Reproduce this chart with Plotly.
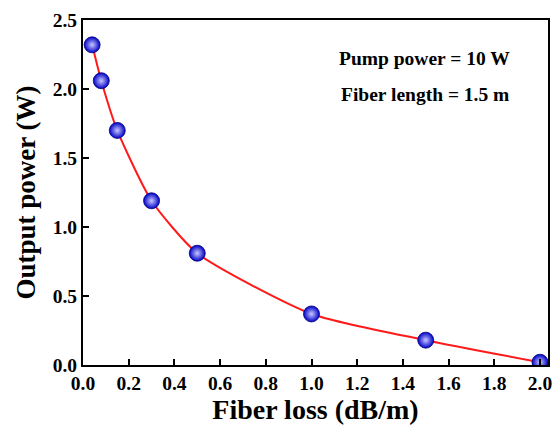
import plotly.graph_objects as go

fiber_loss = [0.04, 0.08, 0.15, 0.3, 0.5, 1.0, 1.5, 2.0]
output_power = [2.32, 2.06, 1.70, 1.19, 0.81, 0.37, 0.18, 0.02]
x_ticks = [0.0, 0.2, 0.4, 0.6, 0.8, 1.0, 1.2, 1.4, 1.6, 1.8, 2.0]
y_ticks = [0.0, 0.5, 1.0, 1.5, 2.0, 2.5]

font_family = "Liberation Serif, Times New Roman, serif"

fig = go.Figure()
fig.add_trace(go.Scatter(
    x=fiber_loss, y=output_power, mode="lines",
    line=dict(color="#ff1a1a", width=2, shape="spline", smoothing=0.6),
    showlegend=False, hoverinfo="skip",
))
fig.add_trace(go.Scatter(
    x=fiber_loss, y=output_power, mode="markers",
    marker=dict(size=16, color="#0000c8",
                gradient=dict(type="radial", color="#c8c8ff"),
                line=dict(width=0.8, color="#00007a")),
    showlegend=False,
))

axis_common = dict(
    showline=True, linecolor="black", linewidth=2, mirror=True,
    ticks="inside", ticklen=6, tickwidth=2, tickcolor="black",
    showgrid=False, zeroline=False,
    tickfont=dict(family=font_family, size=19.5, color="black"),
)

fig.update_xaxes(
    range=[0, 2.035], tickvals=x_ticks,
    ticktext=[f"<b>{v:.1f}</b>" for v in x_ticks],
    title=dict(text="<b>Fiber loss (dB/m)</b>",
               font=dict(family=font_family, size=28, color="black"),
               standoff=4),
    **axis_common,
)
fig.update_yaxes(
    range=[0, 2.5], tickvals=y_ticks,
    ticktext=[f"<b>{v:.1f}</b>" for v in y_ticks],
    title=dict(text="<b>Output power (W)</b>",
               font=dict(family=font_family, size=27, color="black"),
               standoff=9),
    **axis_common,
)

fig.add_annotation(text="<b>Pump power = 10 W</b>", xref="paper", yref="paper",
                   x=0.735, y=0.887, xanchor="center", yanchor="middle",
                   showarrow=False,
                   font=dict(family=font_family, size=19.5, color="black"))
fig.add_annotation(text="<b>Fiber length = 1.5 m</b>", xref="paper", yref="paper",
                   x=0.735, y=0.783, xanchor="center", yanchor="middle",
                   showarrow=False,
                   font=dict(family=font_family, size=19.5, color="black"))

fig.update_layout(
    width=555, height=428,
    margin=dict(l=83, r=3, t=20, b=63),
    plot_bgcolor="white", paper_bgcolor="white",
)

fig.write_html("out.html")
